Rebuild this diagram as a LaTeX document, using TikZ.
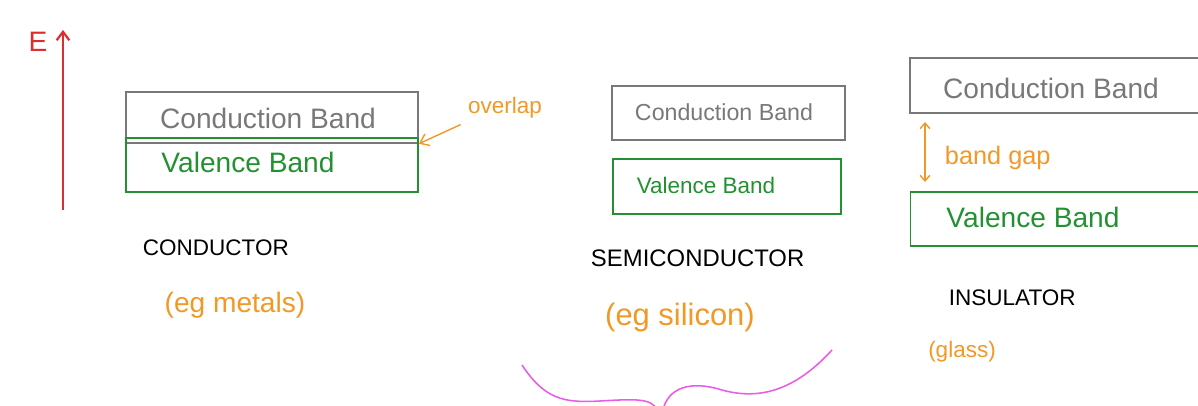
\documentclass[tikz,border=0pt]{standalone}
\usepackage{fontspec}
\setmainfont{Liberation Sans}
\usetikzlibrary{arrows.meta}
\definecolor{bandgray}{RGB}{120,120,120}
\definecolor{bandgreen}{RGB}{35,145,50}
\definecolor{notered}{RGB}{222,45,45}
\definecolor{noteorange}{RGB}{242,152,38}
\definecolor{bracepink}{RGB}{232,92,232}

\begin{document}
\begin{tikzpicture}[x=0.025cm,y=-0.025cm]
    \clip (0,0) rectangle (1198,406);
    \tikzset{CondBox/.style = {draw=bandgray, line width=1.1pt, inner sep=0pt}}
    \tikzset{ValBox/.style = {draw=bandgreen, line width=1.2pt, inner sep=0pt}}
    \tikzset{CondText/.style = {text=bandgray, font=\fontsize{20}{24}\selectfont}}
    \tikzset{ValText/.style = {text=bandgreen, font=\fontsize{20}{24}\selectfont}}
    \tikzset{KindText/.style = {text=black, font=\fontsize{16}{20}\selectfont}}
    \tikzset{NoteText/.style = {text=noteorange, font=\fontsize{20}{24}\selectfont}}
    \tikzset{barb/.style = {-{Straight Barb[length=6pt,width=9pt]}}}

    % energy axis
    \coordinate (Ebot) at (63,210);
    \coordinate (Etop) at (63,30);
    \node[text=notered, font=\fontsize{20}{24}\selectfont] (Elab) at (38,42) {E};
    \draw[barb, notered, line width=1.6pt] (Ebot) -- (Etop);

    % conductor
    \node[CondBox, minimum width=7.3cm, minimum height=1.275cm] (CB1) at (272,117.5) {};
    \node[ValBox, minimum width=7.3cm, minimum height=1.35cm] (VB1) at (272,165) {};
    \node[CondText] (CT1) at (268,118) {Conduction Band};
    \node[ValText] (VT1) at (248,162) {Valence Band};
    \node[NoteText, font=\fontsize{16}{20}\selectfont] (Over) at (505,108) {overlap};
    \draw[barb, noteorange, line width=1pt, shorten <=2pt] (Over.south west) -- (CB1.south east);
    \node[KindText, anchor=west] (K1) at (138,248) {CONDUCTOR};
    \node[NoteText] (Ex1) at (235,305) {(eg metals)};

    % semiconductor
    \node[CondBox, minimum width=5.825cm, minimum height=1.35cm] (CB2) at (728.5,113) {};
    \node[ValBox, minimum width=5.7cm, minimum height=1.375cm] (VB2) at (727,186.5) {};
    \node[CondText, font=\fontsize{16.5}{20}\selectfont] (CT2) at (724,112) {Conduction Band};
    \node[ValText, font=\fontsize{16}{20}\selectfont] (VT2) at (706,185) {Valence Band};
    \node[KindText, anchor=west, font=\fontsize{17}{20}\selectfont] (K2) at (586,258) {SEMICONDUCTOR};
    \node[NoteText, font=\fontsize{22}{26}\selectfont] (Ex2) at (680,318) {(eg silicon)};

    % insulator
    \node[CondBox, minimum width=7.5cm, minimum height=1.375cm] (CB3) at (1060,85.5) {};
    \node[ValBox, minimum width=7.5cm, minimum height=1.35cm] (VB3) at (1060.5,219) {};
    \node[CondText] (CT3) at (1051,88) {Conduction Band};
    \node[ValText] (VT3) at (1033,217) {Valence Band};
    \coordinate (GapTop) at (925,122);
    \coordinate (GapBot) at (925,182);
    \draw[{Straight Barb[length=4pt,width=7pt]}-{Straight Barb[length=4pt,width=7pt]}, noteorange, line width=1pt] (GapTop) -- (GapBot);
    \node[NoteText, font=\fontsize{18}{22}\selectfont, anchor=west] (Gap) at (940,158) {band gap};
    \node[KindText, anchor=west] (K3) at (944,298) {INSULATOR};
    \node[NoteText, font=\fontsize{16}{20}\selectfont] (Ex3) at (962,352) {(glass)};

    % brace under the semiconductor
    \draw[bracepink, line width=1.1pt]
        (522,365) .. controls (545,400) and (565,403) .. (600,401)
        .. controls (635,399) and (652,398) .. (657,410);
    \draw[bracepink, line width=1.1pt]
        (663,410) .. controls (668,388) and (690,380) .. (722,390)
        .. controls (765,402) and (800,385) .. (832,350);
\end{tikzpicture}
\end{document}
